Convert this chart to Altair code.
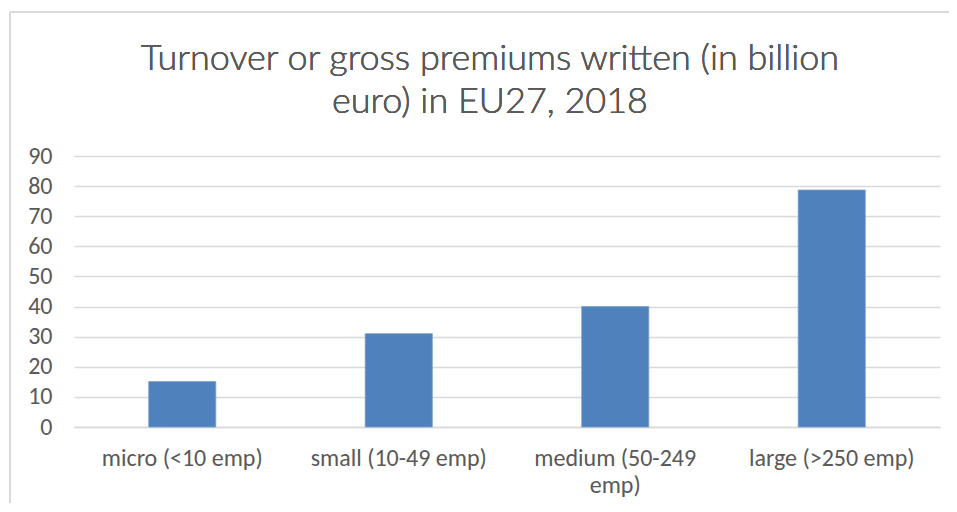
import altair as alt
import pandas as pd

categories = ["micro (<10 emp)", "small (10-49 emp)", "medium (50-249 emp)", "large (>250 emp)"]
values = [15.1, 31.0, 40.0, 78.7]
y_ticks = [0, 10, 20, 30, 40, 50, 60, 70, 80, 90]
title_lines = ["Turnover or gross premiums written (in billion", "euro) in EU27, 2018"]

df = pd.DataFrame({"category": categories, "value": values})

FONT = "Carlito, Calibri, Lato, sans-serif"
TITLE_FONT = "Lato, Carlito, sans-serif"
TXT = "#595959"
GRID = "#d9d9d9"

bars = alt.Chart(df).mark_bar(color="#4f81bd", stroke="#7aa0d0", strokeWidth=0.8).encode(
    x=alt.X("category:N", sort=categories, title=None,
            scale=alt.Scale(paddingInner=0.69, paddingOuter=0.345),
            axis=alt.Axis(labelAngle=0, ticks=False, domain=True, domainColor=GRID, domainWidth=1.5,
                          labelFont=FONT, labelFontSize=24, labelColor=TXT, labelPadding=19,
                          labelLimit=300, labelLineHeight=27,
                          labelExpr="datum.label == 'medium (50-249 emp)' ? ['medium (50-249', 'emp)'] : datum.label")),
    y=alt.Y("value:Q", title=None,
            scale=alt.Scale(domain=[0, 90], nice=False),
            axis=alt.Axis(values=y_ticks, ticks=False, domain=False, grid=True, gridColor=GRID, gridWidth=1.5,
                          labelFont=FONT, labelFontSize=24, labelColor=TXT, labelPadding=22)),
)

title = alt.Chart(df).mark_text(
    font=TITLE_FONT, fontSize=36, fontWeight=300, color=TXT, align="center",
    baseline="alphabetic", lineHeight=43
).encode(
    x=alt.value(416), y=alt.value(-86), text=alt.value(title_lines)
)

border = alt.Chart(df).mark_rule(color=GRID, strokeWidth=2).encode(
    x=alt.value(-64), y=alt.value(-144), y2=alt.value(360)
)
border_top = alt.Chart(df).mark_rule(color=GRID, strokeWidth=2).encode(
    x=alt.value(-64), x2=alt.value(900), y=alt.value(-144)
)

chart = alt.layer(border, border_top, bars, title).properties(
    width=866, height=271,
    autosize=alt.AutoSizeParams(type="none"),
    padding={"left": 66, "top": 148, "right": 9, "bottom": 76},
).configure_view(stroke=None)

chart.save("out.html", embed_options={"renderer": "svg", "actions": False})
